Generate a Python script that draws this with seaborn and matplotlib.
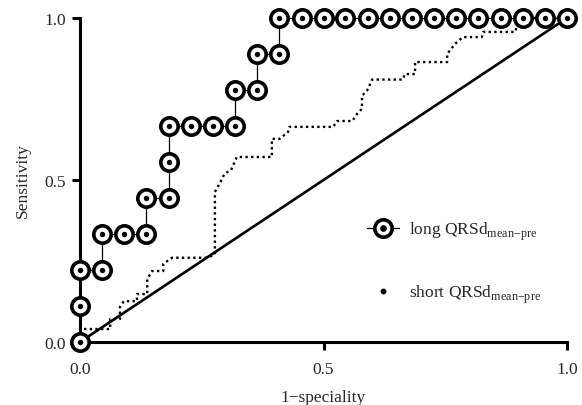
import matplotlib
matplotlib.use('Agg')
import matplotlib.pyplot as plt
import seaborn as sns
from matplotlib.lines import Line2D
from matplotlib.legend_handler import HandlerTuple

# long QRSd group: ROC vertices (1-specificity, sensitivity)
long_fpr = [0, 0, 0, 0.045, 0.045, 0.091, 0.136, 0.136, 0.182, 0.182, 0.182,
            0.227, 0.273, 0.318, 0.318, 0.364, 0.364, 0.409, 0.409, 0.455,
            0.5, 0.545, 0.591, 0.636, 0.682, 0.727, 0.773, 0.818, 0.864,
            0.909, 0.955, 1.0]
long_tpr = [0, 0.111, 0.222, 0.222, 0.333, 0.333, 0.333, 0.444, 0.444, 0.556,
            0.667, 0.667, 0.667, 0.667, 0.778, 0.778, 0.889, 0.889, 1.0, 1.0,
            1.0, 1.0, 1.0, 1.0, 1.0, 1.0, 1.0, 1.0, 1.0, 1.0, 1.0, 1.0]

# short QRSd group
short_fpr = [0, 0, 0.062, 0.062, 0.082, 0.082, 0.09, 0.117, 0.117, 0.138,
             0.138, 0.148, 0.171, 0.171, 0.189, 0.262, 0.277, 0.277, 0.287,
             0.297, 0.31, 0.322, 0.394, 0.394, 0.41, 0.427, 0.43, 0.52,
             0.528, 0.559, 0.569, 0.579, 0.579, 0.589, 0.6, 0.663, 0.667,
             0.688, 0.688, 0.754, 0.754, 0.77, 0.786, 0.825, 0.828, 0.894,
             0.9, 1.0]
short_tpr = [0, 0.04, 0.04, 0.071, 0.071, 0.108, 0.126, 0.126, 0.148, 0.148,
             0.194, 0.219, 0.219, 0.241, 0.26, 0.26, 0.27, 0.463, 0.49,
             0.52, 0.53, 0.571, 0.571, 0.627, 0.627, 0.648, 0.664, 0.664,
             0.682, 0.682, 0.704, 0.72, 0.76, 0.775, 0.81, 0.81, 0.827,
             0.827, 0.864, 0.864, 0.889, 0.92, 0.941, 0.941, 0.957, 0.957,
             1.0, 1.0]

diag = [0, 1]
ticks = [0, 0.5, 1.0]
tick_labels = ['0.0', '0.5', '1.0']
labels = [r'long QRSd$_{\mathregular{mean{-}pre}}$',
          r'short QRSd$_{\mathregular{mean{-}pre}}$']

sns.set_style('ticks')
plt.rcParams['font.family'] = ['Liberation Serif', 'DejaVu Serif']
plt.rcParams['mathtext.fontset'] = 'custom'
plt.rcParams['mathtext.rm'] = 'Liberation Serif'

fig = plt.figure(figsize=(5.82, 4.06), dpi=100)
ax = fig.add_axes([80 / 582, 1 - 343 / 406, 487 / 582, 324 / 406])

sns.lineplot(x=diag, y=diag, ax=ax, color='black', lw=1.9, zorder=2)

sns.lineplot(x=short_fpr, y=short_tpr, ax=ax, sort=False, estimator=None,
             color='black', lw=1.7, linestyle=(0, (1, 1.4)), zorder=3,
             clip_on=False)

sns.lineplot(x=long_fpr, y=long_tpr, ax=ax, sort=False, estimator=None,
             color='black', lw=0.9, marker='o', markersize=12.5,
             markerfacecolor='white', markeredgecolor='black',
             markeredgewidth=2.6, zorder=4, clip_on=False)
sns.scatterplot(x=long_fpr, y=long_tpr, ax=ax, color='black', s=15,
                linewidth=0, zorder=5, clip_on=False)

ax.set_xlim(0, 1)
ax.set_ylim(0, 1)
ax.set_xticks(ticks)
ax.set_xticklabels(tick_labels)
ax.set_yticks(ticks)
ax.set_yticklabels(tick_labels)
ax.tick_params(length=6, width=2.2, labelsize=12.5, color='black')
ax.tick_params(axis='x', pad=8)
ax.tick_params(axis='y', pad=4)
for side in ['left', 'bottom']:
    ax.spines[side].set_linewidth(2.2)
    ax.spines[side].set_color('black')
sns.despine(ax=ax)

ax.set_xlabel('1\u2212speciality', fontsize=12.5, labelpad=8)
ax.set_ylabel('Sensitivity', fontsize=12.5, labelpad=10)

ring = Line2D([], [], color='black', lw=0.9, marker='o', markersize=12.5,
              markerfacecolor='white', markeredgecolor='black',
              markeredgewidth=2.6)
dot = Line2D([], [], ls='none', marker='o', markersize=3.8, color='black')
small = Line2D([], [], ls='none', marker='o', markersize=3.2, color='black')
ax.legend([(ring, dot), small], labels,
          handler_map={tuple: HandlerTuple(ndivide=1, pad=0)},
          frameon=False, loc='upper left', bbox_to_anchor=(0.558, 0.424),
          handlelength=1.8, handletextpad=0.6, labelspacing=2.3,
          fontsize=12.5)

fig.savefig('out.png', dpi=100)
